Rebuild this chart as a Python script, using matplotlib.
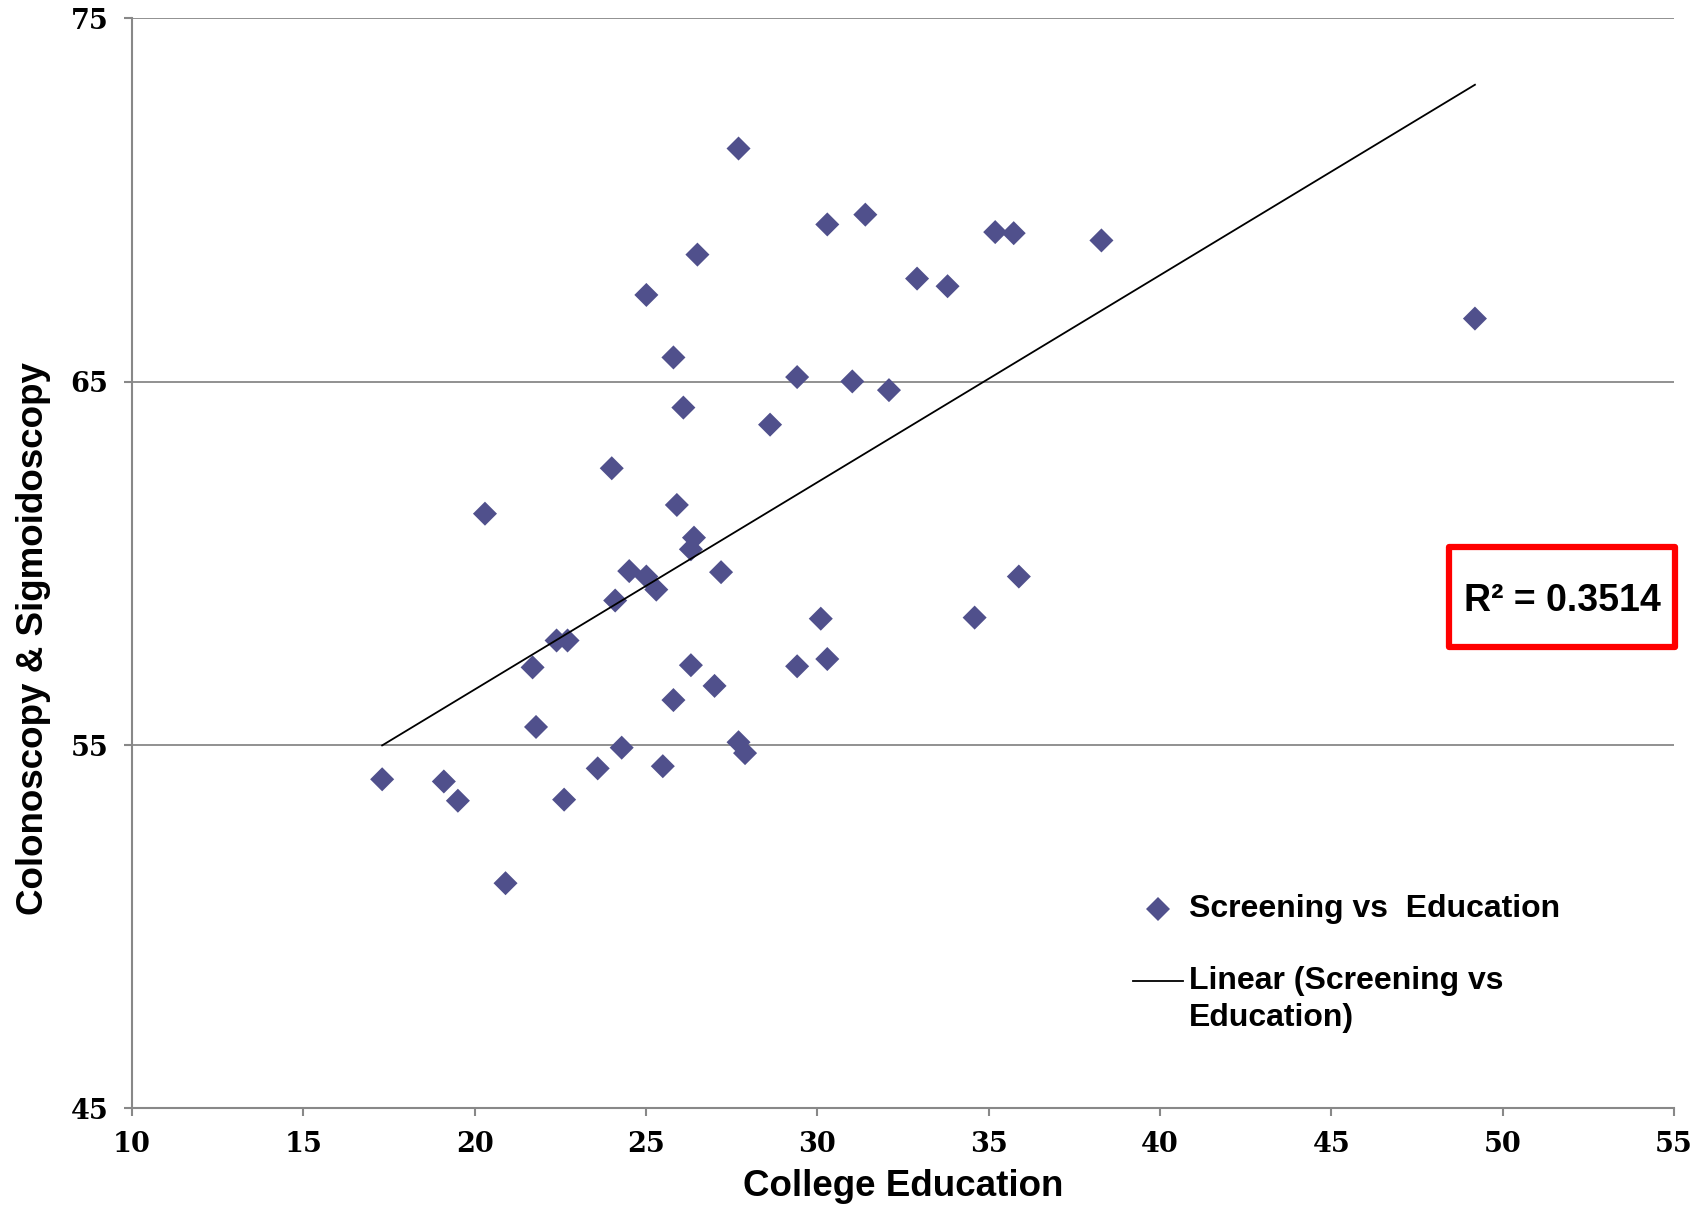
import numpy as np
import matplotlib
matplotlib.use("Agg")
import matplotlib.pyplot as plt
from matplotlib.lines import Line2D
from matplotlib.patches import Rectangle

# College education (%) vs colonoscopy & sigmoidoscopy screening (%)
education = [27.70, 31.40, 30.29, 35.19, 35.73, 38.29, 26.50, 32.91, 33.80, 25.01,
             49.19, 25.80, 29.41, 31.02, 32.09, 26.09, 28.62, 24.00, 20.30, 25.90,
             26.40, 26.31, 24.51, 25.01, 27.19, 35.88, 25.30, 24.10, 30.10, 34.59,
             22.39, 22.71, 21.69, 26.31, 29.41, 30.29, 27.00, 25.80, 21.79, 24.29,
             27.70, 27.89, 23.59, 25.49, 17.30, 19.10, 19.51, 22.61, 20.90]
screening = [71.42, 69.60, 69.33, 69.12, 69.09, 68.89, 68.50, 67.84, 67.63, 67.39,
             66.74, 65.67, 65.13, 65.01, 64.77, 64.29, 63.82, 62.62, 61.37, 61.61,
             60.71, 60.39, 59.79, 59.64, 59.76, 59.64, 59.28, 58.98, 58.48, 58.51,
             57.88, 57.88, 57.14, 57.20, 57.17, 57.37, 56.63, 56.24, 55.50, 54.93,
             55.08, 54.78, 54.36, 54.42, 54.06, 54.00, 53.47, 53.50, 51.20]

x_ticks = [10, 15, 20, 25, 30, 35, 40, 45, 50, 55]
y_ticks = [45, 55, 65, 75]
series_label = "Screening vs  Education"
trend_label = "Linear (Screening vs\nEducation)"
r2_text = "R\u00b2 = 0.3514"

marker_color = "#50508C"
axis_gray = "#888888"

fig = plt.figure(figsize=(16.99, 12.05), dpi=100)
ax = fig.add_axes([0.0777, 0.0801, 0.9076, 0.9046])

x = np.array(education)
y = np.array(screening)

# grid lines at major y ticks
for yt in y_ticks[1:]:
    ax.axhline(yt, color=axis_gray, lw=1.3, zorder=1)

ax.scatter(x, y, marker='D', s=150, color=marker_color, edgecolors='none', zorder=3)

# linear trend line
coef = np.polyfit(x, y, 1)
xs = np.array([x.min(), x.max()])
ax.plot(xs, np.polyval(coef, xs), color='black', lw=1.3, zorder=4)

ax.set_xlim(10, 55)
ax.set_ylim(45, 75)
ax.set_xticks(x_ticks)
ax.set_yticks(y_ticks)

for s in ['top', 'right']:
    ax.spines[s].set_visible(False)
for s in ['left', 'bottom']:
    ax.spines[s].set_color(axis_gray)
    ax.spines[s].set_linewidth(1.5)

ax.tick_params(axis='both', direction='out', length=6, width=1.5, color=axis_gray,
               labelsize=19.5)
ax.tick_params(axis='x', pad=10)
ax.tick_params(axis='y', pad=11)
for lab in ax.get_xticklabels() + ax.get_yticklabels():
    lab.set_fontfamily('DejaVu Serif')
    lab.set_fontweight('bold')

ax.set_xlabel("College Education", fontsize=26.5, fontweight='bold',
              fontfamily='Liberation Sans', labelpad=8)
ax.set_ylabel("Colonoscopy & Sigmoidoscopy", fontsize=26.5, fontweight='bold',
              fontfamily='Liberation Sans', labelpad=14, y=0.431)

# manual legend in figure pixel coordinates
W, H = 1699, 1205
def fx(px):
    return px / W
def fy(py):
    return 1 - py / H

fig.add_artist(Line2D([fx(1158)], [fy(909)], marker='D', markersize=12,
                      color=marker_color, markeredgewidth=0, transform=fig.transFigure))
fig.text(fx(1189), fy(909), series_label, fontsize=23, fontweight='bold',
         fontfamily='Liberation Sans', va='center', ha='left')
fig.add_artist(Line2D([fx(1133), fx(1183)], [fy(981), fy(981)], color='black', lw=1.3,
                      transform=fig.transFigure))
fig.text(fx(1189), fy(981), trend_label.split("\n")[0], fontsize=23, fontweight='bold',
         fontfamily='Liberation Sans', va='center', ha='left')
fig.text(fx(1189), fy(1018), trend_label.split("\n")[1], fontsize=23, fontweight='bold',
         fontfamily='Liberation Sans', va='center', ha='left')

# R^2 box
fig.add_artist(Rectangle((fx(1449), fy(647)), fx(1675) - fx(1449), fy(547) - fy(647),
                         transform=fig.transFigure, fill=False, edgecolor='#FF0000', lw=4.5,
                         joinstyle='round'))
fig.text(fx(1562), fy(601), r2_text, fontsize=27, fontweight='bold',
         fontfamily='Liberation Sans', va='center', ha='center')

fig.savefig("out.png", dpi=100, facecolor='white')
